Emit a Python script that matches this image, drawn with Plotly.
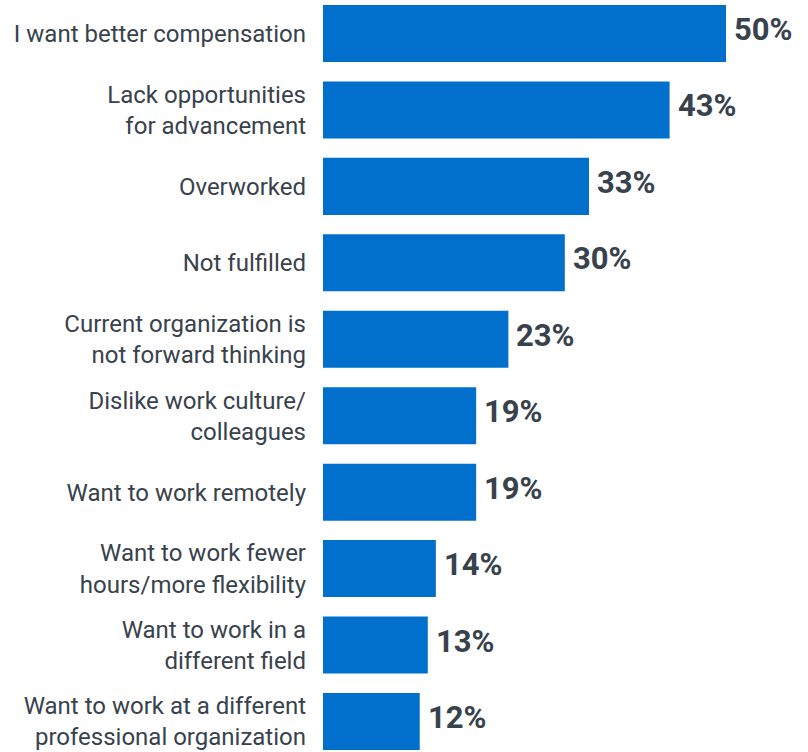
import plotly.graph_objects as go

# Reasons for looking for a new job, share of respondents (%)
reasons = [
    "I want better compensation",
    "Lack opportunities<br>for advancement",
    "Overworked",
    "Not fulfilled",
    "Current organization is<br>not forward thinking",
    "Dislike work culture/<br>colleagues",
    "Want to work remotely",
    "Want to work fewer<br>hours/more flexibility",
    "Want to work in a<br>different field",
    "Want to work at a different<br>professional organization",
]
shares = [50, 43, 33, 30, 23, 19, 19, 14, 13, 12]
share_labels = [f"{v}%" for v in shares]

BAR_COLOR = "#0070CC"
TEXT_COLOR = "#38424C"

fig = go.Figure(
    go.Bar(
        x=shares,
        y=reasons,
        orientation="h",
        marker=dict(color=BAR_COLOR, line=dict(width=0)),
        hoverinfo="skip",
    )
)

# Value labels just past the end of each bar
for reason, share, label in zip(reasons, shares, share_labels):
    fig.add_annotation(
        x=share,
        y=reason,
        text=label,
        showarrow=False,
        xanchor="left",
        yanchor="middle",
        xshift=6,
        yshift=4,
        font=dict(family="Roboto", size=31, color=TEXT_COLOR, weight="bold"),
    )

fig.update_layout(
    width=808,
    height=752,
    margin=dict(l=323, r=0, t=0, b=0),
    paper_bgcolor="white",
    plot_bgcolor="white",
    bargap=0.254,
    showlegend=False,
    font=dict(family="Roboto", color=TEXT_COLOR),
)

fig.update_xaxes(
    range=[0, 60.17],
    visible=False,
    showgrid=False,
    zeroline=False,
)

fig.update_yaxes(
    type="category",
    range=[9.399, -0.438],
    showgrid=False,
    zeroline=False,
    showline=False,
    ticks="",
    ticklabelstandoff=16,
    tickfont=dict(family="Roboto", size=24, color=TEXT_COLOR),
)

fig.write_html("out.html")
